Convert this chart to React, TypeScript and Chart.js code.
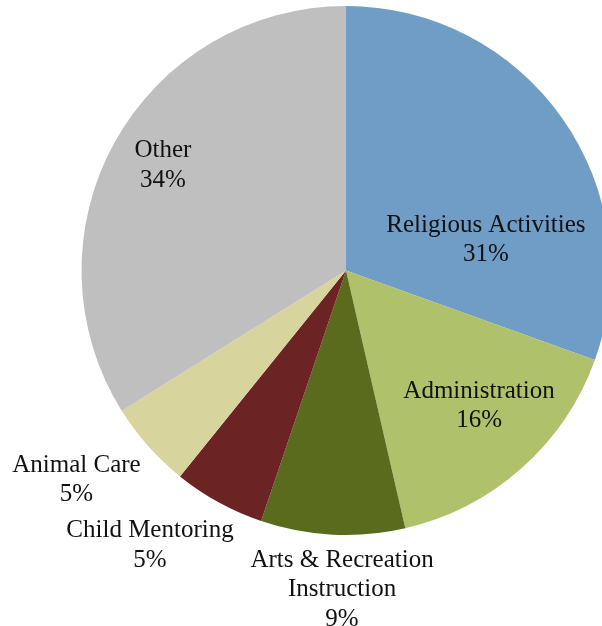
import React, { useEffect, useRef } from "react";
import { Chart, registerables } from "chart.js";

Chart.register(...registerables);

const categories = [
  "Religious Activities",
  "Administration",
  "Arts & Recreation Instruction",
  "Child Mentoring",
  "Animal Care",
  "Other",
];
const shares = [30.5, 15.9, 8.8, 5.6, 5.3, 33.9];
const percentLabels = ["31%", "16%", "9%", "5%", "5%", "34%"];
const labelLines = [
  ["Religious Activities"],
  ["Administration"],
  ["Arts & Recreation", "Instruction"],
  ["Child Mentoring"],
  ["Animal Care"],
  ["Other"],
];

const colors = ["#6F9DC6", "#AFC26B", "#5A6B1E", "#6B2423", "#D8D49E", "#BFBFBF"];
// label anchor (first baseline), in units of the pie radius from the pie centre
const labelPlacement = [
  [0.529, -0.147],
  [0.503, 0.482],
  [-0.015, 1.12],
  [-0.741, 1.009],
  [-1.019, 0.761],
  [-0.692, -0.429],
];
const FONT = "25px 'Liberation Serif', 'Times New Roman', serif";
const LINE_H = 29.5;

const labelPlugin = {
  id: "pieLabels",
  afterDatasetsDraw(chart: any) {
    const meta = chart.getDatasetMeta(0);
    const ctx = chart.ctx;
    ctx.save();
    ctx.font = FONT;
    ctx.fillStyle = "#111";
    ctx.textAlign = "center";
    ctx.textBaseline = "alphabetic";
    meta.data.forEach((arc: any, i: number) => {
      const { x, y, outerRadius } = arc.getProps(["x", "y", "outerRadius"], true);
      const [fx, fy] = labelPlacement[i];
      const ax = x + fx * outerRadius;
      const ay = y + fy * outerRadius;
      const lines = [...labelLines[i], percentLabels[i]];
      lines.forEach((t, j) => ctx.fillText(t, ax, ay + j * LINE_H));
    });
    ctx.restore();
  },
};

export default function App() {
  const ref = useRef<HTMLCanvasElement | null>(null);
  useEffect(() => {
    if (!ref.current) return;
    const chart = new Chart(ref.current, {
      type: "pie",
      data: {
        labels: categories,
        datasets: [
          {
            data: shares,
            backgroundColor: colors,
            borderWidth: 0,
          },
        ],
      },
      options: {
        responsive: false,
        animation: false,
        devicePixelRatio: 1,
        layout: { padding: { left: 81.5, top: 6, right: 9.5, bottom: 91 } },
        plugins: {
          legend: { display: false },
          tooltip: { enabled: false },
        },
      },
      plugins: [labelPlugin],
    });
    return () => chart.destroy();
  }, []);
  return (
    <div
      style={{
        position: "absolute",
        left: 0,
        top: 0,
        width: 602,
        height: 626,
        overflow: "hidden",
        background: "#fff",
      }}
    >
      <canvas ref={ref} width={620} height={626} style={{ display: "block" }} />
    </div>
  );
}
